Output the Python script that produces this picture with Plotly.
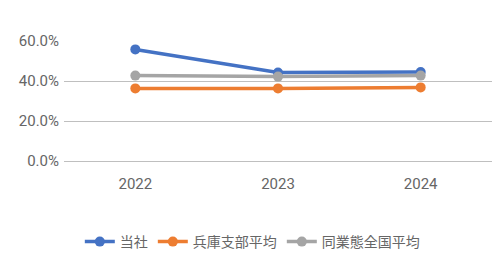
import plotly.graph_objects as go

years = ["2022", "2023", "2024"]
tosha = [0.558, 0.442, 0.445]
hyogo = [0.363, 0.363, 0.368]
zenkoku = [0.427, 0.422, 0.427]

names = ["当社", "兵庫支部平均", "同業態全国平均"]
colors = ["#4472C4", "#ED7D31", "#A5A5A5"]

fig = go.Figure()
for name, vals, c in zip(names, [tosha, hyogo, zenkoku], colors):
    fig.add_trace(go.Scatter(
        x=years, y=vals, name=name, mode="lines+markers",
        line=dict(color=c, width=3.5),
        marker=dict(color=c, size=10),
    ))

font_family = "Noto Sans CJK JP, Roboto, sans-serif"
tick_font = dict(family="Roboto, sans-serif", size=15, color="#666666")
fig.update_layout(
    width=504, height=264,
    margin=dict(l=64, r=12, t=41, b=103, autoexpand=False),
    paper_bgcolor="white", plot_bgcolor="white",
    font=dict(family=font_family, color="#595959", size=14),
    showlegend=True,
    legend=dict(orientation="h", x=0.44, xanchor="center", y=-0.675, yanchor="middle",
                font=dict(size=14, color="#666666"), tracegroupgap=0),
    xaxis=dict(type="category", range=[-0.5, 2.5], showgrid=False, showline=False,
               ticks="", ticklabelstandoff=12, tickfont=tick_font),
    yaxis=dict(range=[0, 0.6], tickvals=[0, 0.2, 0.4, 0.6], tickformat=".1%",
               gridcolor="#BFBFBF", gridwidth=1, zeroline=True, zerolinecolor="#BFBFBF",
               zerolinewidth=1, showline=False, ticks="", ticklabelstandoff=4,
               tickfont=tick_font),
)
fig.write_html("out.html")
